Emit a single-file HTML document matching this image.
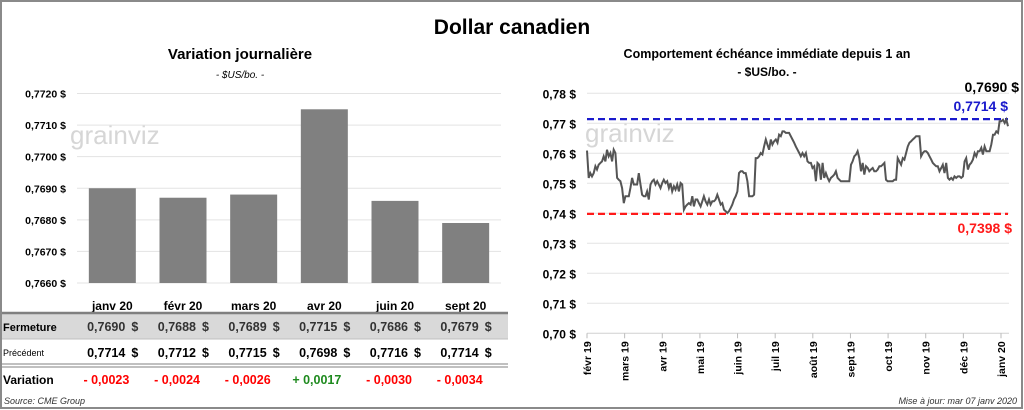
<!DOCTYPE html>
<html><head><meta charset="utf-8"><style>
body{margin:0;background:#fff;font-family:"Liberation Sans",sans-serif}
#wrap{position:relative;width:1024px;height:410px;overflow:hidden}
svg text{font-family:"Liberation Sans",sans-serif}
</style></head><body>
<div id="wrap">
<svg id="s" width="1024" height="410" style="position:absolute;left:0;top:0">
<rect x="1" y="1" width="1021" height="407" fill="none" stroke="#8a8a8a" stroke-width="2"/>
<text x="512" y="34" text-anchor="middle" font-size="21" font-weight="bold">Dollar canadien</text>
<text x="240" y="59" text-anchor="middle" font-size="15" font-weight="bold">Variation  journalière</text>
<text x="240" y="78" text-anchor="middle" font-size="10" font-style="italic">- $US/bo. -</text>
<text x="767" y="58" text-anchor="middle" font-size="12.5" font-weight="bold">Comportement échéance immédiate depuis 1 an</text>
<text x="767" y="76" text-anchor="middle" font-size="12" font-weight="bold">- $US/bo. -</text>
<text x="70" y="144" font-size="26" fill="#d6d6d6">grainviz</text>
<text x="585" y="142" font-size="26" fill="#d6d6d6">grainviz</text>
<g id="left"></g><g id="right"></g><g id="table"></g>
<text x="4" y="404" font-size="9" font-style="italic" fill="#333">Source: CME Group</text>
<text x="1017" y="404" text-anchor="end" font-size="9" font-style="italic" fill="#333">Mise à jour: mar 07 janv 2020</text>
</svg>
</div>
<script>
const barCats=["janv 20","févr 20","mars 20","avr 20","juin 20","sept 20"];
const barVals=[0.7690,0.7687,0.7688,0.7715,0.7686,0.7679];
const leftTicks=[0.7720,0.7710,0.7700,0.7690,0.7680,0.7670,0.7660];
const closeVals=["0,7690","0,7688","0,7689","0,7715","0,7686","0,7679"];
const prevVals=["0,7714","0,7712","0,7715","0,7698","0,7716","0,7714"];
const varVals=["- 0,0023","- 0,0024","- 0,0026","+ 0,0017","- 0,0030","- 0,0034"];
const rightTicks=[0.78,0.77,0.76,0.75,0.74,0.73,0.72,0.71,0.70];
const months=["févr 19","mars 19","avr 19","mai 19","juin 19","juil 19","août 19","sept 19","oct 19","nov 19","déc 19","janv 20"];
const highVal=0.7714, lowVal=0.7398, lastVal=0.7690;
const lineVals=[0.7609,0.7518,0.7534,0.7523,0.7534,0.7557,0.7546,0.7562,0.7568,0.7573,0.7590,0.7573,0.7612,0.7590,0.7601,0.7573,0.7612,0.7601,0.7518,0.7512,0.7507,0.7484,0.7434,0.7457,0.7457,0.7457,0.7484,0.7518,0.7496,0.7496,0.7496,0.7534,0.7496,0.7462,0.7457,0.7457,0.7473,0.7446,0.7496,0.7507,0.7512,0.7496,0.7507,0.7496,0.7484,0.7501,0.7512,0.7501,0.7507,0.7484,0.7501,0.7473,0.7490,0.7479,0.7496,0.7473,0.7501,0.7496,0.7412,0.7423,0.7429,0.7434,0.7429,0.7457,0.7423,0.7446,0.7446,0.7434,0.7423,0.7440,0.7457,0.7440,0.7429,0.7446,0.7429,0.7440,0.7440,0.7446,0.7462,0.7446,0.7429,0.7434,0.7412,0.7407,0.7401,0.7407,0.7418,0.7429,0.7446,0.7457,0.7473,0.7534,0.7540,0.7540,0.7534,0.7534,0.7507,0.7457,0.7457,0.7457,0.7462,0.7584,0.7584,0.7590,0.7601,0.7596,0.7623,0.7646,0.7629,0.7612,0.7646,0.7629,0.7640,0.7646,0.7635,0.7662,0.7657,0.7673,0.7673,0.7668,0.7668,0.7668,0.7657,0.7646,0.7635,0.7623,0.7612,0.7601,0.7590,0.7601,0.7590,0.7601,0.7573,0.7568,0.7568,0.7551,0.7557,0.7507,0.7568,0.7562,0.7512,0.7568,0.7518,0.7534,0.7518,0.7507,0.7518,0.7523,0.7529,0.7540,0.7518,0.7512,0.7507,0.7507,0.7507,0.7507,0.7507,0.7507,0.7562,0.7573,0.7590,0.7596,0.7607,0.7584,0.7540,0.7568,0.7529,0.7557,0.7551,0.7540,0.7546,0.7551,0.7540,0.7540,0.7546,0.7557,0.7557,0.7562,0.7568,0.7512,0.7507,0.7507,0.7507,0.7507,0.7512,0.7512,0.7584,0.7573,0.7562,0.7584,0.7579,0.7601,0.7623,0.7635,0.7640,0.7646,0.7651,0.7657,0.7657,0.7657,0.7590,0.7601,0.7607,0.7607,0.7601,0.7590,0.7579,0.7568,0.7562,0.7557,0.7557,0.7540,0.7551,0.7562,0.7534,0.7568,0.7518,0.7512,0.7518,0.7512,0.7523,0.7518,0.7523,0.7523,0.7518,0.7523,0.7573,0.7584,0.7546,0.7562,0.7568,0.7579,0.7601,0.7590,0.7607,0.7607,0.7618,0.7596,0.7623,0.7607,0.7607,0.7607,0.7629,0.7662,0.7662,0.7673,0.7668,0.7707,0.7707,0.7712,0.7701,0.7712,0.7690];
const NS="http://www.w3.org/2000/svg";
function mk(p,tag,a,txt){const e=document.createElementNS(NS,tag);for(const k in a)e.setAttribute(k,a[k]);if(txt!==undefined)e.textContent=txt;p.appendChild(e);return e;}
const fmt4=v=>v.toFixed(4).replace('.',',')+' $';
const L=document.getElementById('left');
const lx0=77,lx1=501,lMin=0.7660,lMax=0.7720,ly0=283,ly1=93.5;
const ly=v=>ly0-(v-lMin)/(lMax-lMin)*(ly0-ly1);
const bw=(lx1-lx0)/barCats.length;
leftTicks.forEach(t=>{
 const g=mk(L,'line',{x1:lx0,x2:lx1,y1:ly(t),y2:ly(t),stroke:'#e3e3e3'});
 
 
 const tx=mk(L,'text',{x:66,y:ly(t)+4,'text-anchor':'end','font-size':10.5,'font-weight':'bold'},fmt4(t));
 
 
});
barCats.forEach((c,i)=>{
 const cx=lx0+bw*(i+0.5);
 const r=mk(L,'rect',{x:cx-23.5,y:ly(barVals[i]),width:47,height:ly0-ly(barVals[i]),fill:'#808080'});
 
 
 const tx=mk(L,'text',{x:cx,y:310,'text-anchor':'middle','font-size':12,'font-weight':'bold'},c);
 
 
});
const T=document.getElementById('table');
const rbg=mk(T,'rect',{x:2,y:314,width:506,height:25,fill:'#d9d9d9'});


[[313,'#808080',2.5],[339,'#bfbfbf',1],[364,'#808080',1],[367,'#808080',1]].forEach(([y,c,w])=>{
 const l=mk(T,'line',{x1:2,x2:508,y1:y,y2:y,stroke:c,'stroke-width':w});
 
 
});
[['Fermeture',331,11,'bold'],['Précédent',356,9,'normal'],['Variation',384,12,'bold']].forEach(([s,y,f,w])=>{
 const tx=mk(T,'text',{x:3,y:y,'font-size':f,'font-weight':w},s);
 
 
});
barCats.forEach((c,i)=>{
 const cx=lx0+bw*(i+0.5);
 const a=mk(T,'text',{x:cx+13,y:331,'text-anchor':'end','font-size':12.5,'font-weight':'bold',fill:'#333'},closeVals[i]);
 
 
 const a2=mk(T,'text',{x:cx+26,y:331,'text-anchor':'end','font-size':12.5,'font-weight':'bold',fill:'#333'},'$');
 
 
 const b=mk(T,'text',{x:cx+13,y:357,'text-anchor':'end','font-size':12.5,'font-weight':'bold'},prevVals[i]);
 
 
 const b2=mk(T,'text',{x:cx+26,y:357,'text-anchor':'end','font-size':12.5,'font-weight':'bold'},'$');
 
 
 const d=mk(T,'text',{x:cx+17,y:384,'text-anchor':'end','font-size':12.5,'font-weight':'bold',fill:varVals[i][0]=='+'?'#1e8a1e':'#ff0000'},varVals[i]);
 
 
});
const R=document.getElementById('right');
const rx0=587,rx1=1009,rMin=0.70,rMax=0.78,ry0=333.3,ry1=93.3;
const ry=v=>ry0-(v-rMin)/(rMax-rMin)*(ry0-ry1);
rightTicks.forEach(t=>{
 const g=mk(R,'line',{x1:rx0,x2:rx1,y1:ry(t),y2:ry(t),stroke:t==0.70?'#d0d0d0':'#e3e3e3'});
 
 
 const tx=mk(R,'text',{x:576,y:ry(t)+5,'text-anchor':'end','font-size':12,'font-weight':'bold'},t.toFixed(2).replace('.',',')+' $');
 
 
});
const mstep=(1001-587)/(months.length-1);
months.forEach((m,i)=>{
 const x=rx0+mstep*i;
 const tk=mk(R,'line',{x1:x,x2:x,y1:ry0,y2:ry0+5,stroke:'#bbb'});
 
 
 const tx=mk(R,'text',{x:x+4,y:ry0+8,'text-anchor':'end','font-size':10.5,'font-weight':'bold',transform:`rotate(-90 ${x+4} ${ry0+8})`},m);
 
 
});
const lxs=i=>rx0+(1008-rx0)*i/(lineVals.length-1);
const hl=mk(R,'line',{x1:rx0,x2:1008,y1:ry(highVal),y2:ry(highVal),stroke:'#1a1acc','stroke-width':2.2,'stroke-dasharray':'7 4'});


const ll=mk(R,'line',{x1:rx0,x2:1008,y1:ry(lowVal),y2:ry(lowVal),stroke:'#ff1a1a','stroke-width':2.2,'stroke-dasharray':'7 4'});


const pts=lineVals.map((v,i)=>lxs(i).toFixed(1)+','+ry(v).toFixed(1)).join(' ');
const pl=mk(R,'polyline',{points:pts,fill:'none',stroke:'#555','stroke-width':2});


const hlab=mk(R,'text',{x:1008,y:ry(highVal)-8,'text-anchor':'end','font-size':14,'font-weight':'bold',fill:'#1a1acc'},highVal.toFixed(4).replace('.',',')+' $');


const llab=mk(R,'text',{x:1012,y:ry(lowVal)+19,'text-anchor':'end','font-size':14,'font-weight':'bold',fill:'#ff1a1a'},lowVal.toFixed(4).replace('.',',')+' $');


const clab=mk(R,'text',{x:1019,y:92,'text-anchor':'end','font-size':14,'font-weight':'bold'},lastVal.toFixed(4).replace('.',',')+' $');


</script>
</body></html>
